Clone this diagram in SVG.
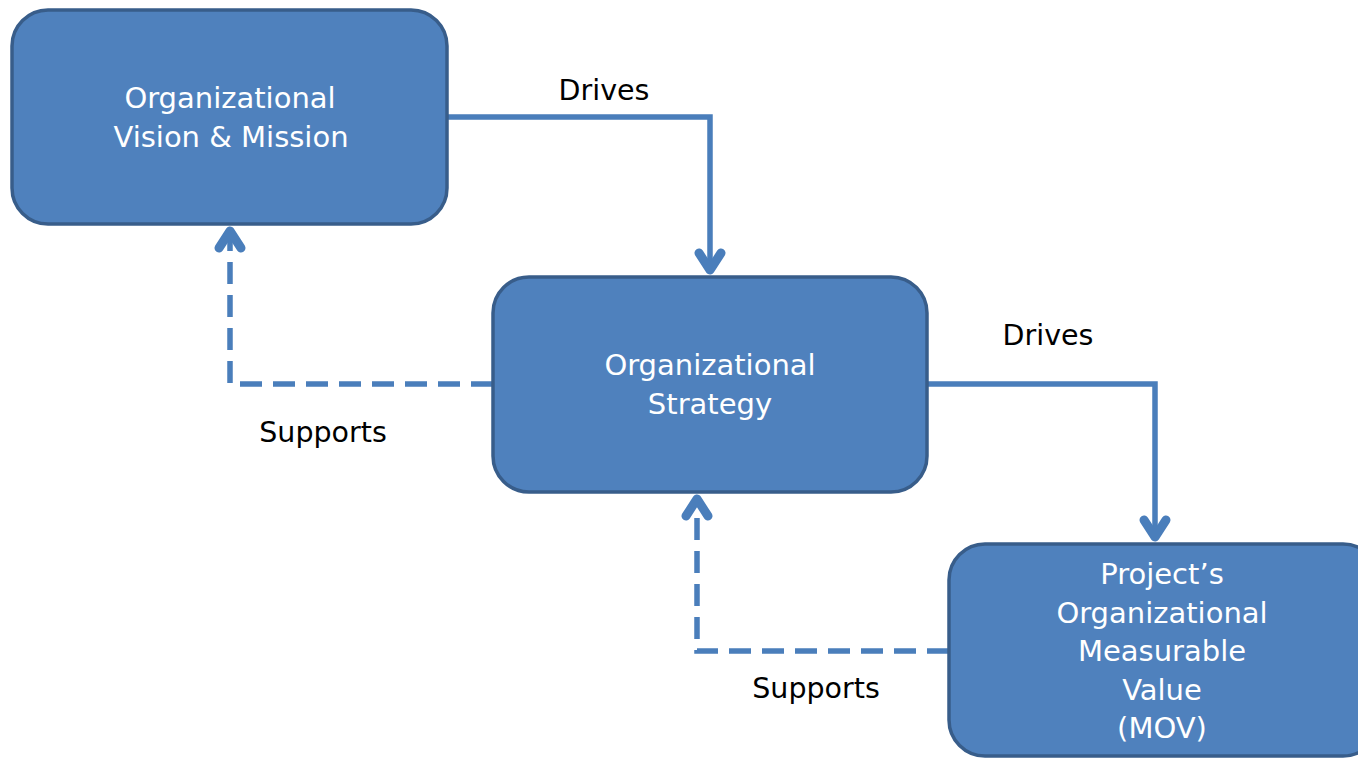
<svg xmlns="http://www.w3.org/2000/svg" width="1358" height="758" viewBox="0 0 1358 758">
<style>
.box{fill:#4F81BD;stroke:#385D8A;stroke-width:3.5}
.nt{fill:#fff;font-family:"DejaVu Sans",sans-serif;font-size:29px;text-anchor:middle}
.lt{fill:#000;font-family:"DejaVu Sans",sans-serif;font-size:28.5px;text-anchor:middle}
.c{fill:none;stroke:#4A7EBB;stroke-width:5.5}
.d{stroke-dasharray:22 11}
</style>
<defs>
<marker id="ah" markerUnits="userSpaceOnUse" viewBox="-16 -16 32 32" markerWidth="32" markerHeight="32" refX="0" refY="0" orient="auto" overflow="visible">
<path d="M-19,-11 L-2,0 L-19,11" fill="none" stroke="#4A7EBB" stroke-width="9" stroke-linecap="round" stroke-linejoin="round"/>
</marker>
</defs>
<g id="connectors">
<path class="c" d="M447,117 H710 V272" marker-end="url(#ah)"/>
<path class="c" d="M927,384 H1155 V539" marker-end="url(#ah)"/>
<path class="c d" d="M493,384 H230 V229" marker-end="url(#ah)"/>
<path class="c d" d="M949,651 H697 V497" marker-end="url(#ah)"/>
<text class="lt" x="604" y="100">Drives</text>
<text class="lt" x="1048" y="345">Drives</text>
<text class="lt" x="323" y="442">Supports</text>
<text class="lt" x="816" y="698">Supports</text>
</g>
<g id="vision">
<rect class="box" x="12" y="10" width="435" height="214" rx="36"/>
<text class="nt" x="230" y="108">Organizational</text>
<text class="nt" x="231" y="147">Vision &amp; Mission</text>
</g>
<g id="strategy">
<rect class="box" x="493" y="277" width="434" height="215" rx="36"/>
<text class="nt" x="710" y="375">Organizational</text>
<text class="nt" x="710" y="414">Strategy</text>
</g>
<g id="mov">
<rect class="box" x="949" y="544" width="430" height="212" rx="36"/>
<text class="nt" x="1162" y="584">Project’s</text>
<text class="nt" x="1162" y="623">Organizational</text>
<text class="nt" x="1162" y="661">Measurable</text>
<text class="nt" x="1162" y="700">Value</text>
<text class="nt" x="1162" y="738">(MOV)</text>
</g>
</svg>
